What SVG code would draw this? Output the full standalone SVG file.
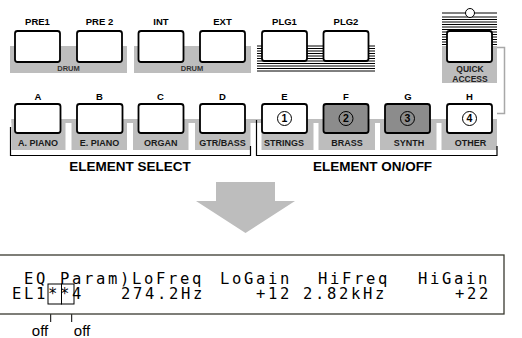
<svg xmlns="http://www.w3.org/2000/svg" width="522" height="338" viewBox="0 0 522 338">
<style>
.btn{fill:#fff;stroke:#000;stroke-width:1.8}
.btnd{fill:#8c8c8c;stroke:#000;stroke-width:1.8}
.band{fill:#bdbdbd}
.t{font-family:"Liberation Sans",Arial,Helvetica,sans-serif;font-weight:bold;text-anchor:middle;fill:#000}
.lbl{font-size:9.5px}
.sub{font-size:9px;fill:#1a1a1a}
.drum{font-size:7.5px;fill:#333}
.title{font-size:13.5px}
.num{font-size:10.5px}
.hatch{fill:none;stroke:#000;stroke-width:1}
.brk{fill:none;stroke:#000;stroke-width:1.2}
.frame{fill:none;stroke:#a8a8a8;stroke-width:1.5}
.circ{fill:#fff;stroke:#000;stroke-width:1}
.circd{fill:none;stroke:#000;stroke-width:1}
.lcd{font-family:"DejaVu Sans Mono","Liberation Mono",monospace;font-size:15.5px;letter-spacing:2.67px;fill:#000}
.off{font-family:"Liberation Sans",Arial,sans-serif;font-size:15px;fill:#000}
.thin{fill:none;stroke:#000;stroke-width:1}
</style>

<!-- background bands -->
<g id="drum-bands">
  <rect class="band" x="10" y="46" width="117" height="27"/>
  <rect class="band" x="134" y="46" width="117" height="27"/>
  <text class="t drum" x="68.5" y="70.5">DRUM</text>
  <text class="t drum" x="192" y="70.5">DRUM</text>
</g>

<g id="plg-hatch">
  <path class="hatch" d="M257 46H375M257 48.5H375M257 51H375M257 53.5H375M257 56H375M257 58.5H375M257 61H375M257 63.5H375M257 66H375M257 68.5H375M257 71H375"/>
</g>

<g id="qa-hatch">
  <path class="hatch" d="M442 13H497M442 17H497M442 19.5H497M442 22H497M442 24.5H497M442 27H497M442 29.5H497M442 32H497M442 34.5H497M442 37H497M442 39.5H497M442 42H497M442 44.5H497"/>
  <circle class="circ" cx="470" cy="13" r="4.5"/>
</g>

<g id="qa-band">
  <rect class="band" x="442" y="46" width="55" height="37"/>
  <path class="frame" d="M497 47.5H504.5V113.5H497"/>
  <text class="t sub" x="470" y="72" style="font-size:8.5px;fill:#222">QUICK</text>
  <text class="t sub" x="470" y="81.5" style="font-size:8.5px;fill:#222">ACCESS</text>
</g>

<g id="element-bands">
  <rect class="band" x="11.5" y="119" width="485.5" height="4"/>
  <rect class="band" x="11.5" y="119" width="54" height="31"/>
  <rect class="band" x="71.5" y="119" width="55.5" height="31"/>
  <rect class="band" x="133" y="119" width="55.5" height="31"/>
  <rect class="band" x="195" y="119" width="55.5" height="31"/>
  <rect class="band" x="261.5" y="119" width="52" height="31"/>
  <rect class="band" x="318.5" y="119" width="56.5" height="31"/>
  <rect class="band" x="380" y="119" width="56.5" height="31"/>
  <rect class="band" x="441.5" y="119" width="55.5" height="31"/>
</g>

<!-- top row buttons -->
<g id="btn-pre1"><rect class="btn" x="15" y="31" width="45" height="31" rx="2.5"/><text class="t lbl" x="37.5" y="25">PRE1</text></g>
<g id="btn-pre2"><rect class="btn" x="77" y="31" width="45" height="31" rx="2.5"/><text class="t lbl" x="99.5" y="25">PRE 2</text></g>
<g id="btn-int"><rect class="btn" x="138.5" y="31" width="45" height="31" rx="2.5"/><text class="t lbl" x="161" y="25">INT</text></g>
<g id="btn-ext"><rect class="btn" x="200" y="31" width="45" height="31" rx="2.5"/><text class="t lbl" x="222.5" y="25">EXT</text></g>
<g id="btn-plg1"><rect class="btn" x="262" y="31" width="45" height="30" rx="2.5"/><text class="t lbl" x="284.5" y="25">PLG1</text></g>
<g id="btn-plg2"><rect class="btn" x="323.5" y="31" width="45" height="30" rx="2.5"/><text class="t lbl" x="346" y="25">PLG2</text></g>
<g id="btn-quick"><rect class="btn" x="447" y="31" width="45" height="31" rx="2.5"/></g>

<!-- bottom row buttons -->
<g id="btn-a"><text class="t lbl" x="38" y="100">A</text><rect class="btn" x="15" y="104" width="45.5" height="29" rx="2.5"/><text class="t sub" x="38" y="146">A. PIANO</text></g>
<g id="btn-b"><text class="t lbl" x="99.5" y="100">B</text><rect class="btn" x="77" y="104" width="45.5" height="29" rx="2.5"/><text class="t sub" x="99.5" y="146">E. PIANO</text></g>
<g id="btn-c"><text class="t lbl" x="160.5" y="100">C</text><rect class="btn" x="138.5" y="104" width="45" height="29" rx="2.5"/><text class="t sub" x="160.8" y="146">ORGAN</text></g>
<g id="btn-d"><text class="t lbl" x="222.5" y="100">D</text><rect class="btn" x="200" y="104" width="45" height="29" rx="2.5"/><text class="t sub" x="222.5" y="146">GTR/BASS</text></g>
<g id="btn-e"><text class="t lbl" x="284.5" y="100">E</text><rect class="btn" x="262" y="104" width="45" height="29" rx="2.5"/><circle class="circd" cx="284.5" cy="118.5" r="7"/><text class="t num" x="284.5" y="122.3">1</text><text class="t sub" x="284" y="146">STRINGS</text></g>
<g id="btn-f"><text class="t lbl" x="346" y="100">F</text><rect class="btnd" x="323.5" y="104" width="45" height="29" rx="2.5"/><circle class="circd" cx="346" cy="118.5" r="7"/><text class="t num" x="346" y="122.3">2</text><text class="t sub" x="347" y="146">BRASS</text></g>
<g id="btn-g"><text class="t lbl" x="408" y="100">G</text><rect class="btnd" x="385" y="104" width="45" height="29" rx="2.5"/><circle class="circd" cx="407.5" cy="118.5" r="7"/><text class="t num" x="407.5" y="122.3">3</text><text class="t sub" x="409" y="146">SYNTH</text></g>
<g id="btn-h"><text class="t lbl" x="469.5" y="100">H</text><rect class="btn" x="447" y="104" width="45" height="29" rx="2.5"/><circle class="circd" cx="469.5" cy="118.5" r="7"/><text class="t num" x="469.5" y="122.3">4</text><text class="t sub" x="470.5" y="146">OTHER</text></g>

<g id="connectors">
  <path class="brk" d="M10.5 127V155.5H250.5V146"/>
  <path class="brk" d="M256.5 120V155.5H497V146"/>
  <polygon points="216,182 275,182 275,201 295,201 245.5,233 196,201 216,201" fill="#bdbdbd"/>
  <path class="thin" d="M50.7 304V322M71.7 304V322"/>
</g>

<g id="group-titles">
  <text class="t title" x="130" y="171">ELEMENT SELECT</text>
  <text class="t title" x="372.5" y="171">ELEMENT ON/OFF</text>
</g>

<g id="lcd">
  <rect x="-2" y="255" width="506" height="59" fill="#fff" stroke="#3a3a30" stroke-width="1.3"/>
  <text class="lcd" x="24" y="284">EQ Param)LoFreq</text>
  <text class="lcd" x="220" y="284">LoGain</text>
  <text class="lcd" x="318" y="284">HiFreq</text>
  <text class="lcd" x="418" y="284">HiGain</text>
  <text class="lcd" x="12" y="298.5">EL1**4</text>
  <text class="lcd" x="121" y="298.5">274.2Hz</text>
  <text class="lcd" x="256" y="298.5">+12</text>
  <text class="lcd" x="303" y="298.5">2.82kHz</text>
  <text class="lcd" x="455" y="298.5">+22</text>
  <rect class="thin" x="48" y="284" width="13.5" height="20"/>
  <rect class="thin" x="61.5" y="284" width="12.5" height="20"/>
</g>

<g id="off-labels">
  <text class="off" x="40" y="336" text-anchor="middle">off</text>
  <text class="off" x="82" y="336" text-anchor="middle">off</text>
</g>
</svg>
